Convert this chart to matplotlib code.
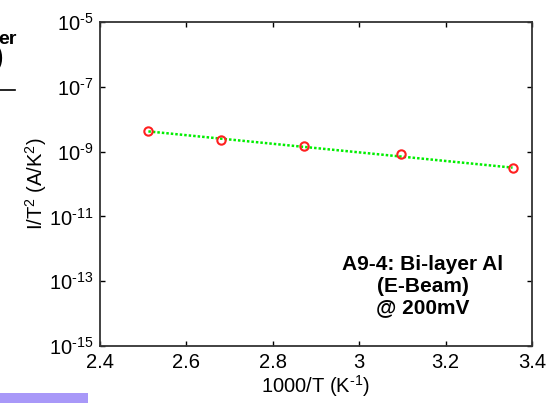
import numpy as np
import matplotlib.pyplot as plt
from matplotlib.patches import Rectangle

plt.rcParams['font.family'] = ['Liberation Sans', 'DejaVu Sans']
plt.rcParams['mathtext.fontset'] = 'custom'
plt.rcParams['mathtext.rm'] = 'Liberation Sans'
plt.rcParams['mathtext.bf'] = 'Liberation Sans:bold'

# measured current density vs inverse temperature
inv_T = [2.512, 2.679, 2.872, 3.096, 3.355]
j_over_T2 = [4.3e-9, 2.3e-9, 1.5e-9, 8.7e-10, 3.1e-10]

# Arrhenius fit endpoints
fit_x = [2.512, 3.355]
fit_y = [4.2e-9, 3.2e-10]

x_ticks = [2.4, 2.6, 2.8, 3.0, 3.2, 3.4]
x_labels = ['2.4', '2.6', '2.8', '3', '3.2', '3.4']
y_exps = [-15, -13, -11, -9, -7, -5]

fig = plt.figure(figsize=(5.47, 4.03), dpi=100)
ax = fig.add_axes([100/547, 1 - 346/403, 432/547, 324/403])

ax.plot(fit_x, fit_y, linestyle=(0, (1, 0.8)), color='#00ee00', linewidth=1.8)
ax.plot(inv_T, j_over_T2, 'o', markerfacecolor='none', markeredgecolor='#ff2020',
        markersize=6, markeredgewidth=1.5)

ax.set_yscale('log')
ax.set_xlim(2.4, 3.4)
ax.set_ylim(1e-15, 1e-5)
ax.set_xticks(x_ticks)
ax.set_xticklabels(x_labels)
ax.set_yticks([10.0**e for e in y_exps])
ax.set_yticklabels([r'$\mathregular{10^{\text{-}%d}}$' % -e for e in y_exps])
ax.minorticks_off()
ax.tick_params(direction='in', length=3.5, width=1, labelsize=14.5,
               top=True, right=True, pad=5)
for s in ax.spines.values():
    s.set_linewidth(1.3)
    s.set_color('#333333')

ax.set_xlabel(r'1000/T (K$\mathregular{^{\text{-}1}}$)', fontsize=14.5, labelpad=1)
ax.set_ylabel(r'I/T$\mathregular{^2}$ (A/K$\mathregular{^2}$)', fontsize=14.5, labelpad=0)

ax.text(0.747, 0.185, 'A9-4: Bi-layer Al\n(E-Beam)\n@ 200mV', transform=ax.transAxes,
        ha='center', va='center', fontsize=15, fontweight='bold', linespacing=1.2)

# leftovers of the surrounding slide
fig.text(-0.003, 1 - 40/403, 'er', fontsize=14, fontweight='bold', va='center', ha='left')
fig.text(-0.009, 1 - 58/403, ')', fontsize=18, fontweight='bold', va='center', ha='left')
fig.add_artist(plt.Line2D([0, 15/547], [1 - 90/403, 1 - 90/403], color='black', linewidth=1.2,
                          transform=fig.transFigure))
fig.add_artist(Rectangle((0, 0), 88/547, 10/403, transform=fig.transFigure,
                         facecolor='#a898f8', edgecolor='none'))

fig.savefig('out.png', dpi=100)
